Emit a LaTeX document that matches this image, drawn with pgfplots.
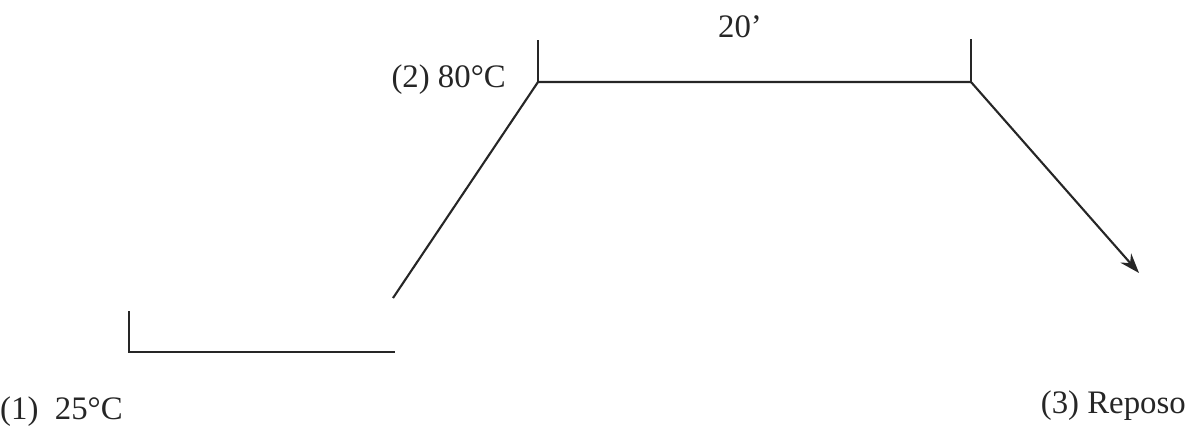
\documentclass[border=0pt]{standalone}
\usepackage{fontspec}
\setmainfont{Liberation Serif}
\usepackage{pgfplots}
\pgfplotsset{compat=1.18}
\usetikzlibrary{arrows.meta}
\definecolor{ink}{HTML}{262626}

\begin{document}
\begin{tikzpicture}
\begin{axis}[
  scale only axis,
  width=35.61cm, height=12.87cm,
  xmin=0, xmax=1187, ymin=0, ymax=429,
  y dir=reverse,
  hide axis, clip=false,
]
% invisible frame so the page keeps the reference size
\addplot[draw=none] coordinates {(0,0) (1187,429)};

% (1) start at 25 C
\addplot[ink, line width=1.8pt] coordinates {(129,311) (129,352) (395,352)};
% heating ramp and 20 min hold at 80 C
\addplot[ink, line width=1.8pt] coordinates {(393,298) (538,82) (971,82)};
\addplot[ink, line width=1.8pt] coordinates {(538,40) (538,82)};
\addplot[ink, line width=1.8pt] coordinates {(971,39) (971,82)};
% (3) cooling to rest
\addplot[ink, line width=1.8pt, -{Stealth[length=17pt,width=12pt]}]
  coordinates {(971,82) (1139,273)};

\node[anchor=west, font=\fontsize{28}{32}\selectfont, text=ink, inner sep=0pt]
  at (axis cs:0,412) {(1)\ \ 25°C};
\node[anchor=east, font=\fontsize{28}{32}\selectfont, text=ink, inner sep=0pt]
  at (axis cs:506,80) {(2) 80°C};
\node[anchor=center, font=\fontsize{28}{32}\selectfont, text=ink, inner sep=0pt]
  at (axis cs:740,27) {20’};
\node[anchor=east, font=\fontsize{28}{32}\selectfont, text=ink, inner sep=0pt]
  at (axis cs:1186,406) {(3) Reposo};
\end{axis}
\end{tikzpicture}
\end{document}
